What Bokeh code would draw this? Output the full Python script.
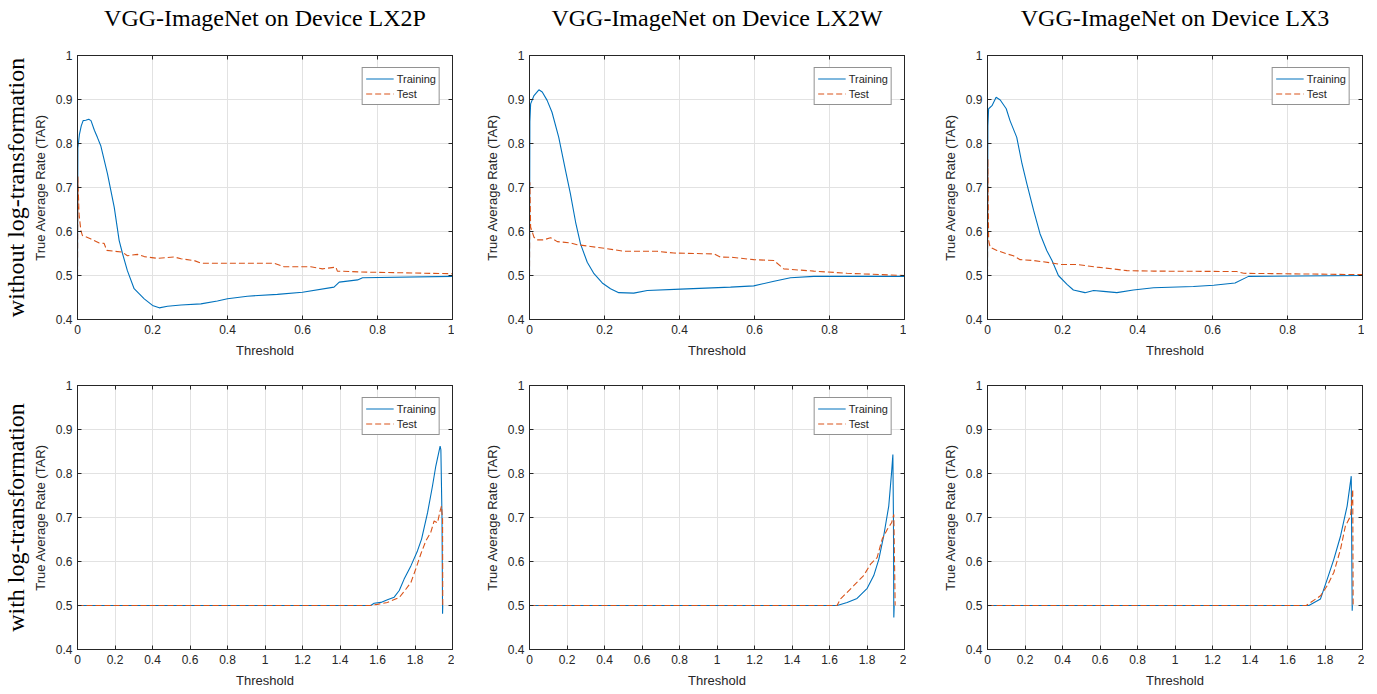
from bokeh.plotting import figure
from bokeh.models import (Range1d, LinearAxis, FixedTicker, CustomJSTickFormatter,
                          Title, Legend, LegendItem, Grid)
from bokeh.layouts import column, row
from bokeh.embed import file_html
from bokeh.resources import INLINE

BLUE = "#0072BD"
ORANGE = "#D95319"
DARK = "#262626"
GRIDC = "#e2e2e2"

# ---------------- texts / ticks ----------------
panel_titles = ["VGG-ImageNet on Device LX2P", "VGG-ImageNet on Device LX2W",
                "VGG-ImageNet on Device LX3"]
row_labels = ["without log-transformation", "with log-transformation"]
series_names = ["Training", "Test"]
x_label = "Threshold"
y_label = "True Average Rate (TAR)"
x_ticks_top = [0, 0.2, 0.4, 0.6, 0.8, 1]
x_ticks_bottom = [0, 0.2, 0.4, 0.6, 0.8, 1, 1.2, 1.4, 1.6, 1.8, 2]
y_ticks = [0.4, 0.5, 0.6, 0.7, 0.8, 0.9, 1]

# ---------------- data: without log-transformation ----------------
lx2p_train_x = [0, 0.001, 0.005, 0.01, 0.015, 0.022, 0.03, 0.036, 0.045, 0.053, 0.062, 0.08, 0.098,
                0.111, 0.12, 0.133, 0.151, 0.178, 0.2, 0.218, 0.24, 0.276, 0.329, 0.373, 0.4, 0.453,
                0.533, 0.6, 0.684, 0.698, 0.747, 0.76, 1.0]
lx2p_train_y = [0.5, 0.79, 0.82, 0.84, 0.852, 0.853, 0.855, 0.852, 0.83, 0.814, 0.795, 0.731, 0.655,
                0.58, 0.55, 0.511, 0.47, 0.447, 0.432, 0.4265, 0.43, 0.433, 0.4356, 0.442, 0.447,
                0.453, 0.457, 0.462, 0.4735, 0.485, 0.49, 0.495, 0.498]
lx2p_test_x = [0, 0.001, 0.004, 0.009, 0.013, 0.036, 0.058, 0.071, 0.078, 0.12, 0.133, 0.16, 0.178,
               0.213, 0.258, 0.276, 0.311, 0.329, 0.524, 0.551, 0.622, 0.653, 0.689, 0.693, 0.773, 1.0]
lx2p_test_y = [0.5, 0.725, 0.64, 0.602, 0.591, 0.583, 0.574, 0.573, 0.557, 0.553, 0.545, 0.548, 0.543,
               0.539, 0.542, 0.538, 0.534, 0.528, 0.528, 0.520, 0.520, 0.515, 0.519, 0.51, 0.5076, 0.504]

lx2w_train_x = [0, 0.001, 0.003, 0.012, 0.025, 0.034, 0.047, 0.06, 0.078, 0.096, 0.109, 0.123, 0.136,
                0.154, 0.172, 0.194, 0.216, 0.238, 0.278, 0.314, 0.403, 0.536, 0.598, 0.652, 0.696,
                0.758, 1.0]
lx2w_train_y = [0.5, 0.85, 0.89, 0.909, 0.922, 0.917, 0.898, 0.871, 0.814, 0.739, 0.686, 0.621, 0.572,
                0.53, 0.504, 0.483, 0.47, 0.461, 0.46, 0.466, 0.469, 0.4735, 0.4765, 0.487, 0.495,
                0.498, 0.498]
lx2w_test_x = [0, 0.001, 0.003, 0.012, 0.02, 0.038, 0.056, 0.074, 0.109, 0.127, 0.163, 0.207, 0.252,
               0.34, 0.385, 0.492, 0.509, 0.545, 0.598, 0.652, 0.678, 0.758, 0.847, 1.0]
lx2w_test_y = [0.5, 0.712, 0.61, 0.587, 0.581, 0.581, 0.586, 0.577, 0.574, 0.57, 0.566, 0.561, 0.555,
               0.555, 0.551, 0.549, 0.542, 0.541, 0.536, 0.534, 0.515, 0.51, 0.505, 0.5]

lx3_train_x = [0, 0.001, 0.003, 0.012, 0.023, 0.034, 0.05, 0.06, 0.078, 0.092, 0.105, 0.123, 0.14,
               0.158, 0.172, 0.189, 0.212, 0.229, 0.26, 0.283, 0.309, 0.345, 0.389, 0.443, 0.549,
               0.603, 0.66, 0.696, 1.0]
lx3_train_y = [0.5, 0.84, 0.879, 0.886, 0.905, 0.899, 0.879, 0.852, 0.814, 0.754, 0.708, 0.648, 0.595,
               0.557, 0.534, 0.5, 0.48, 0.467, 0.461, 0.466, 0.464, 0.461, 0.467, 0.472, 0.475,
               0.478, 0.483, 0.498, 0.5]
lx3_test_x = [0, 0.001, 0.003, 0.007, 0.025, 0.052, 0.069, 0.087, 0.123, 0.176, 0.194, 0.238, 0.292,
              0.345, 0.372, 0.443, 0.665, 0.683, 1.0]
lx3_test_y = [0.5, 0.765, 0.58, 0.564, 0.557, 0.549, 0.545, 0.536, 0.534, 0.528, 0.525, 0.525, 0.519,
              0.514, 0.511, 0.51, 0.509, 0.505, 0.502]

# ---------------- data: with log-transformation ----------------
lx2p_log_train_x = [0, 1.564, 1.582, 1.618, 1.653, 1.689, 1.716, 1.742, 1.778, 1.813, 1.835, 1.867,
                    1.893, 1.911, 1.934, 1.938, 1.944, 1.947, 1.948]
lx2p_log_train_y = [0.5, 0.5, 0.505, 0.507, 0.513, 0.519, 0.534, 0.56, 0.59, 0.624, 0.651, 0.711,
                    0.771, 0.817, 0.862, 0.854, 0.7, 0.481, 0.5]
lx2p_log_test_x = [0, 1.56, 1.6, 1.653, 1.716, 1.751, 1.778, 1.804, 1.831, 1.858, 1.884, 1.902,
                   1.92, 1.934, 1.941, 1.947, 1.948]
lx2p_log_test_y = [0.5, 0.5, 0.5026, 0.507, 0.518, 0.537, 0.552, 0.583, 0.617, 0.647, 0.666, 0.692,
                   0.688, 0.715, 0.726, 0.696, 0.5]

lx2w_log_train_x = [0, 1.641, 1.694, 1.747, 1.801, 1.836, 1.863, 1.889, 1.916, 1.931, 1.938, 1.941,
                    1.943, 1.945]
lx2w_log_train_y = [0.5, 0.5, 0.507, 0.516, 0.539, 0.568, 0.605, 0.658, 0.726, 0.802, 0.843, 0.7,
                    0.473, 0.5]
lx2w_log_test_x = [0, 1.64, 1.659, 1.729, 1.782, 1.819, 1.854, 1.881, 1.908, 1.931, 1.943, 1.949, 1.95]
lx2w_log_test_y = [0.5, 0.5, 0.515, 0.545, 0.568, 0.594, 0.609, 0.651, 0.673, 0.688, 0.707, 0.537, 0.5]

lx3_log_train_x = [0, 1.714, 1.776, 1.812, 1.847, 1.883, 1.918, 1.94, 1.945, 1.946]
lx3_log_train_y = [0.5, 0.5, 0.515, 0.56, 0.605, 0.658, 0.726, 0.794, 0.488, 0.5]
lx3_log_test_x = [0, 1.7, 1.723, 1.776, 1.812, 1.847, 1.883, 1.909, 1.936, 1.948, 1.95]
lx3_log_test_y = [0.5, 0.5, 0.507, 0.522, 0.545, 0.575, 0.628, 0.681, 0.703, 0.764, 0.5]


def style_axis(ax, show_labels, label=None, label_standoff=5):
    ax.major_tick_in = 4
    ax.major_tick_out = 0
    ax.minor_tick_line_color = None
    ax.axis_line_color = DARK
    ax.major_tick_line_color = DARK
    if show_labels:
        ax.formatter = CustomJSTickFormatter(code="return String(Math.round(tick*10)/10);")
        ax.major_label_text_font = "Liberation Sans"
        ax.major_label_text_font_size = "12px"
        ax.major_label_text_color = DARK
        ax.major_label_standoff = 5
        if label:
            ax.axis_label = label
            ax.axis_label_text_font = "Liberation Sans"
            ax.axis_label_text_font_size = "13px"
            ax.axis_label_text_font_style = "normal"
            ax.axis_label_text_color = DARK
            ax.axis_label_standoff = label_standoff
    else:
        ax.formatter = CustomJSTickFormatter(code="return '';")
        ax.major_label_standoff = 0


def make_panel(col, rowi, tx, ty, sx, sy, xmax, xticks, legend):
    lefts = [77, 75, 81]
    rights = [2, 2, 2]
    tops = [55, 24]
    bottoms = [42, 38]
    p = figure(frame_width=375, frame_height=264,
               x_range=Range1d(0, xmax), y_range=Range1d(0.4, 1),
               x_axis_type=None, y_axis_type=None,
               output_backend="svg", toolbar_location=None,
               min_border_left=lefts[col], min_border_right=rights[col],
               min_border_top=tops[rowi], min_border_bottom=bottoms[rowi])
    p.outline_line_color = DARK
    p.background_fill_color = "white"
    xt = FixedTicker(ticks=xticks)
    yt = FixedTicker(ticks=y_ticks)
    p.add_layout(Grid(dimension=0, ticker=xt, grid_line_color=GRIDC, grid_line_width=1))
    p.add_layout(Grid(dimension=1, ticker=yt, grid_line_color=GRIDC, grid_line_width=1))

    bx = LinearAxis(ticker=xt); style_axis(bx, True, x_label, 6); p.add_layout(bx, "below")
    ly = LinearAxis(ticker=yt); style_axis(ly, True, y_label, 5); p.add_layout(ly, "left")
    ax_ = LinearAxis(ticker=xt); style_axis(ax_, False)
    if rowi == 0:
        # the panel heading sits above the frame, as the top axis' label
        ax_.axis_label = panel_titles[col]
        ax_.axis_label_text_font = "Liberation Serif"
        ax_.axis_label_text_font_size = "24px"
        ax_.axis_label_text_font_style = "normal"
        ax_.axis_label_text_color = "black"
        ax_.axis_label_standoff = 25
    p.add_layout(ax_, "above")
    ry = LinearAxis(ticker=yt); style_axis(ry, False); p.add_layout(ry, "right")

    r1 = p.line(tx, ty, line_color=BLUE, line_width=1.1)
    r2 = p.line(sx, sy, line_color=ORANGE, line_width=1.1, line_dash="6 3")

    if col == 0:
        p.add_layout(Title(text=row_labels[rowi], align="center", text_font="Liberation Serif",
                           text_font_size="24px", text_font_style="normal", text_color="black",
                           standoff=1), "left")
    if legend:
        lg = Legend(items=[LegendItem(label=series_names[0], renderers=[r1]),
                           LegendItem(label=series_names[1], renderers=[r2])],
                    location="top_right", border_line_color=DARK, border_line_width=1,
                    background_fill_color="white", background_fill_alpha=1,
                    label_text_font="Liberation Sans", label_text_font_size="11px",
                    label_text_color=DARK, glyph_width=28, glyph_height=15, label_height=15,
                    label_standoff=3, padding=3, spacing=0, margin=12)
        p.add_layout(lg)
    return p


top = [
    make_panel(0, 0, lx2p_train_x, lx2p_train_y, lx2p_test_x, lx2p_test_y, 1, x_ticks_top, True),
    make_panel(1, 0, lx2w_train_x, lx2w_train_y, lx2w_test_x, lx2w_test_y, 1, x_ticks_top, True),
    make_panel(2, 0, lx3_train_x, lx3_train_y, lx3_test_x, lx3_test_y, 1, x_ticks_top, True),
]
bottom = [
    make_panel(0, 1, lx2p_log_train_x, lx2p_log_train_y, lx2p_log_test_x, lx2p_log_test_y, 2,
               x_ticks_bottom, True),
    make_panel(1, 1, lx2w_log_train_x, lx2w_log_train_y, lx2w_log_test_x, lx2w_log_test_y, 2,
               x_ticks_bottom, True),
    make_panel(2, 1, lx3_log_train_x, lx3_log_train_y, lx3_log_test_x, lx3_log_test_y, 2,
               x_ticks_bottom, False),
]

layout = column(row(*top, spacing=0), row(*bottom, spacing=0), spacing=0)
open("out.html", "w").write(file_html(layout, INLINE))
